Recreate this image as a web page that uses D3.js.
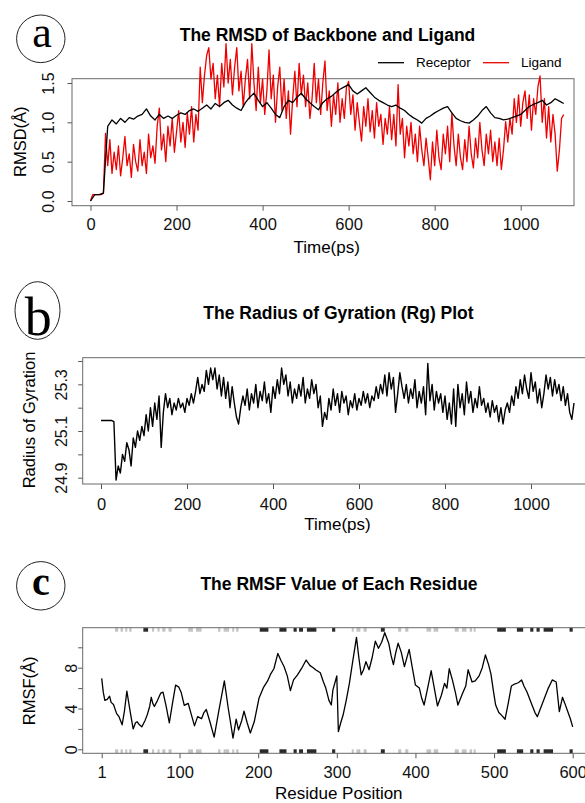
<!DOCTYPE html>
<html>
<head>
<meta charset="utf-8">
<script src="https://cdn.jsdelivr.net/npm/d3@7"></script>
<style>
body { margin: 0; background: #fff; }
svg { display: block; font-family: "Liberation Sans", Arial, sans-serif; }
</style>
</head>
<body>
<svg id="fig" width="585" height="803"></svg>
<script>
// ---- data ----
// panel a: RMSD, ligand every 5 ps, receptor every 10 ps
var ligandStep = 5;
var ligandRmsd = [
    0.00,0.08,0.08,0.08,0.08,0.08,0.10,0.86,0.45,0.78,
    0.35,0.62,0.40,0.70,0.32,0.55,0.82,0.45,0.60,0.30,
    0.72,0.50,0.38,0.78,0.45,0.62,0.35,0.85,0.55,0.70,
    0.48,0.95,1.18,0.65,0.85,0.50,0.95,0.70,1.05,0.62,
    0.88,1.15,0.75,1.00,0.68,1.12,0.85,1.20,0.75,1.10,
    0.90,1.70,1.25,1.60,1.85,1.95,1.55,1.75,1.30,1.60,
    1.20,1.75,1.45,2.00,1.50,1.80,1.35,1.70,1.95,1.40,
    1.65,1.20,1.55,1.80,1.30,2.00,1.50,1.15,1.70,1.25,
    1.55,1.10,1.40,1.92,1.30,1.60,1.00,1.45,1.70,1.15,
    1.55,1.05,1.40,0.85,1.30,1.65,1.20,1.75,1.35,1.60,
    1.20,1.50,1.05,1.30,1.75,1.25,1.55,1.10,1.50,1.78,
    1.15,1.40,0.95,1.35,1.10,1.50,1.00,1.30,1.05,1.45,
    1.52,1.10,1.35,0.90,1.25,1.00,0.76,1.20,0.95,1.30,
    0.88,1.15,0.80,1.25,0.95,1.10,0.72,1.05,0.85,1.20,
    0.78,1.10,0.70,1.48,0.85,1.05,0.55,0.95,0.70,1.00,
    0.60,0.85,0.50,0.95,0.65,0.45,0.80,0.55,0.27,0.75,
    0.45,0.90,0.55,0.40,0.85,0.60,0.95,0.50,1.12,0.70,
    0.45,0.85,0.55,0.40,0.78,0.50,0.95,0.60,0.42,0.80,
    0.55,1.00,0.65,0.45,0.85,0.60,0.90,0.50,0.75,0.45,
    0.80,0.40,0.65,1.01,0.75,1.05,0.85,1.30,1.00,1.35,
    0.95,1.25,1.40,1.05,1.35,0.90,1.30,1.10,1.45,1.59,
    1.00,1.30,0.80,1.20,0.75,1.10,0.85,0.38,0.65,1.05,
    1.10
];
var receptorStep = 10;
var receptorRmsd = [
    0.00,0.08,0.08,0.10,0.95,1.03,0.98,1.05,1.00,1.06,
    1.04,1.08,1.10,1.17,1.08,1.03,1.10,1.05,1.08,1.05,
    1.09,1.12,1.10,1.15,1.17,1.14,1.18,1.22,1.17,1.24,
    1.20,1.25,1.28,1.22,1.18,1.15,1.25,1.32,1.37,1.28,
    1.20,1.25,1.18,1.10,1.06,1.20,1.28,1.25,1.32,1.37,
    1.30,1.25,1.20,1.16,1.25,1.30,1.33,1.38,1.42,1.45,
    1.48,1.40,1.36,1.40,1.44,1.38,1.32,1.28,1.25,1.22,
    1.20,1.22,1.18,1.15,1.10,1.06,1.03,0.99,1.05,1.08,
    1.12,1.15,1.18,1.20,1.12,1.05,1.02,1.00,0.99,1.03,
    1.08,1.15,1.20,1.12,1.06,1.05,1.03,1.04,1.06,1.08,
    1.10,1.15,1.20,1.23,1.25,1.28,1.22,1.25,1.30,1.27,
    1.24
];

// panel b: radius of gyration every 5 ps
var rgStep = 5;
var rgValues = [
    25.145,25.145,25.145,25.145,25.145,25.145,25.14,24.89,24.95,24.92,
    25.00,24.97,25.05,25.02,24.95,25.07,25.03,25.10,25.06,25.12,
    25.08,25.17,25.10,25.20,25.12,25.22,25.15,25.25,25.03,25.18,
    25.26,25.20,25.24,25.17,25.22,25.19,25.24,25.20,25.22,25.18,
    25.24,25.21,25.26,25.22,25.27,25.33,25.26,25.30,25.27,25.36,
    25.30,25.37,25.32,25.37,25.28,25.34,25.25,25.33,25.24,25.31,
    25.20,25.29,25.22,25.16,25.13,25.20,25.25,25.21,25.28,25.19,
    25.26,25.22,25.30,25.20,25.27,25.23,25.31,25.22,25.26,25.18,
    25.29,25.24,25.32,25.26,25.37,25.30,25.34,25.25,25.31,25.22,
    25.28,25.24,25.30,25.25,25.33,25.22,25.28,25.24,25.32,25.26,
    25.30,25.20,25.25,25.12,25.18,25.15,25.24,25.19,25.28,25.21,
    25.26,25.18,25.27,25.22,25.25,25.17,25.23,25.20,25.26,25.19,
    25.24,25.21,25.27,25.22,25.26,25.20,25.25,25.23,25.29,25.24,
    25.30,25.26,25.34,25.25,25.35,25.28,25.33,25.18,25.26,25.35,
    25.29,25.24,25.30,25.22,25.28,25.24,25.32,25.20,25.27,25.22,
    25.29,25.17,25.39,25.23,25.30,25.19,25.27,25.22,25.26,25.18,
    25.25,25.15,25.22,25.13,25.28,25.12,25.30,25.20,25.26,25.17,
    25.31,25.22,25.27,25.18,25.24,25.20,25.29,25.21,25.24,25.18,
    25.22,25.16,25.23,25.18,25.21,25.14,25.20,25.13,25.19,25.22,
    25.18,25.25,25.21,25.29,25.24,25.32,25.26,25.34,25.28,25.24,
    25.35,25.27,25.31,25.22,25.28,25.20,25.26,25.34,25.28,25.33,
    25.25,25.32,25.26,25.30,25.23,25.29,25.21,25.26,25.18,25.15,
    25.22
];

// panel c: RMSF per residue (turning points)
var rmsfResidue = [1,3,5,8,11,13,16,20,23,27,30,33,37,41,44,46,49,52,56,59,62,64,66,68,72,76,79,83,87,91,95,99,102,106,111,115,119,123,128,131,134,139,144,150,157,162,168,172,175,179,182,186,190,195,201,207,212,216,220,225,229,233,237,241,245,250,255,261,266,270,273,279,283,286,290,293,295,300,302,305,308,312,316,320,325,328,331,334,337,341,345,349,353,357,361,366,369,372,375,378,382,386,392,396,400,405,408,411,415,420,424,428,433,437,440,443,447,451,454,460,464,467,472,476,481,485,489,493,496,499,502,506,510,514,518,522,526,530,532,535,538,542,548,552,555,560,564,569,574,579,583,587,590,593,597,600];
var rmsfValue = [6.96,5.6,4.8,4.9,5.2,4.6,4.4,3.5,3.2,2.4,3.8,5.7,3.8,2.0,2.6,2.7,2.4,2.2,2.8,3.4,4.2,5.1,4.5,4.2,4.8,5.5,5.6,4.2,2.6,4.5,6.3,6.1,5.6,4.3,4.5,3.4,2.3,3.2,3.0,3.6,3.9,2.6,1.2,3.8,6.7,4.0,1.1,2.95,1.9,2.8,3.75,2.6,1.6,2.7,5.0,6.1,6.7,7.4,7.9,9.4,8.7,8.1,7.2,5.75,6.8,7.3,7.9,8.75,8.2,8.0,7.8,7.5,6.6,6.0,4.8,4.34,5.8,7.19,1.73,2.6,3.36,4.8,6.46,8.5,10.98,9.0,7.3,7.8,8.6,7.8,9.0,10.6,9.9,10.5,11.43,10.4,9.2,8.3,9.5,10.4,9.5,8.1,9.8,8.0,6.3,6.0,5.0,4.34,5.8,7.7,6.0,4.25,5.3,6.46,6.0,7.9,6.8,5.5,4.34,5.5,6.2,7.8,6.6,6.7,7.2,8.0,9.25,8.3,7.4,5.8,4.34,3.6,3.3,2.95,4.5,6.2,6.4,6.5,6.6,6.8,6.2,5.6,4.4,3.6,3.2,4.2,5.0,6.0,6.8,6.6,3.7,5.1,4.5,3.85,3.0,2.2];
// secondary structure marks along the top and bottom edges
var helixSegments = [[54,60],[202,213],[227,236],[245,249],[252,257],[262,274],[294,298],[356,361],[504,515],[529,537],[546,550],[554,558],[563,575],[596,600]];
var strandSegments = [[18,22],[25,28],[31,33],[36,39],[65,67],[72,74],[78,82],[86,90],[111,117],[121,128],[149,152],[156,163],[167,169],[172,175],[319,321],[325,330],[334,338],[378,382],[387,391],[414,420],[423,429],[450,455],[459,465],[469,472],[474,476]];

var timeTicks = [0, 200, 400, 600, 800, 1000];

var svg = d3.select("#fig");

function drawPanel(p) {
    var g = svg.append("g");
    // letter in circle
    g.append("ellipse")
        .attr("cx", p.badge.cx).attr("cy", p.badge.cy)
        .attr("rx", p.badge.rx).attr("ry", p.badge.ry)
        .attr("fill", "none").attr("stroke", "#222").attr("stroke-width", 1);
    g.append("text")
        .attr("x", p.badge.tx).attr("y", p.badge.ty)
        .attr("text-anchor", "middle")
        .style("font-family", "'Liberation Serif','DejaVu Serif',serif")
        .style("font-size", p.badge.size + "px")
        .style("font-weight", p.badge.weight || "normal")
        .text(p.badge.letter);
    // title
    g.append("text")
        .attr("x", p.title.x).attr("y", p.title.y)
        .attr("text-anchor", "middle")
        .style("font-size", "17.5px").style("font-weight", "bold")
        .text(p.title.text);

    var xAxis = g.append("g")
        .attr("transform", "translate(0," + p.box.y1 + ")")
        .call(d3.axisBottom(p.x).tickValues(p.xticks).tickSize(5).tickFormat(d3.format("d")));
    xAxis.select(".domain").remove();
    xAxis.selectAll("line").attr("stroke", "#555");
    xAxis.selectAll("text")
        .attr("y", p.xlabOff).attr("dy", 0)
        .attr("fill", "#111")
        .style("font-size", "16.5px")
        .style("font-family", "'Liberation Sans',Arial,sans-serif");

    var yAxis = g.append("g")
        .attr("transform", "translate(" + p.box.x0 + ",0)")
        .call(d3.axisLeft(p.y).tickValues(p.yticks).tickSize(4.5)
            .tickFormat(function(d) { return p.ylabels.indexOf(d) >= 0 ? p.yfmt(d) : ""; }));
    yAxis.select(".domain").remove();
    yAxis.selectAll("line").attr("stroke", "#555");
    yAxis.selectAll("text")
        .attr("x", 0).attr("dy", 0)
        .attr("y", -p.ylabOff)
        .attr("transform", "rotate(-90)")
        .attr("text-anchor", "middle")
        .attr("fill", "#111")
        .style("font-size", "16px")
        .style("font-family", "'Liberation Sans',Arial,sans-serif");

    // axis titles
    g.append("text")
        .attr("x", p.xtitle.x).attr("y", p.xtitle.y)
        .attr("text-anchor", "middle")
        .style("font-size", "17px")
        .text(p.xtitle.text);
    g.append("text")
        .attr("transform", "translate(" + p.ytitle.x + "," + p.ytitle.y + ") rotate(-90)")
        .attr("text-anchor", "middle")
        .style("font-size", "16.5px")
        .text(p.ytitle.text);

    p.g = g;
    return g;
}

function drawBox(p) {
    p.g.append("rect")
        .attr("x", p.box.x0).attr("y", p.box.y0)
        .attr("width", p.box.x1 - p.box.x0).attr("height", p.box.y1 - p.box.y0)
        .attr("fill", "none").attr("stroke", "#6a6a6a").attr("stroke-width", 1);
}

// ---- panel a ----
var pa = {
    badge: {cx: 40.8, cy: 38.8, rx: 24.2, ry: 23.8, tx: 42, ty: 46.5, size: 44, letter: "a"},
    title: {x: 327.5, y: 40.5, text: "The RMSD of Backbone and Ligand"},
    box: {x0: 72, x1: 574, y0: 78.7, y1: 205.7},
    x: d3.scaleLinear().domain([0, 1000]).range([90.5, 520.7]),
    y: d3.scaleLinear().domain([0, 1.5]).range([201, 83]),
    xticks: timeTicks, xlabOff: 24.3,
    yticks: [0, 0.5, 1, 1.5], ylabels: [0, 0.5, 1, 1.5], yfmt: d3.format(".1f"), ylabOff: 18.5,
    xtitle: {x: 326.7, y: 252.5, text: "Time(ps)"},
    ytitle: {x: 26, y: 141.7, text: "RMSD(Å)"}
};
drawPanel(pa);
drawBox(pa);
pa.g.append("path")
    .datum(ligandRmsd)
    .attr("d", d3.line().x(function(d, i) { return pa.x(i * ligandStep); }).y(function(d) { return pa.y(d); }))
    .attr("fill", "none").attr("stroke", "#ee0000").attr("stroke-width", 1.3).attr("stroke-linejoin", "round");
pa.g.append("path")
    .datum(receptorRmsd)
    .attr("d", d3.line().x(function(d, i) { return pa.x(i * receptorStep); }).y(function(d) { return pa.y(d); }))
    .attr("fill", "none").attr("stroke", "#000").attr("stroke-width", 1.3).attr("stroke-linejoin", "round");

// legend
var legendItems = [
    {name: "Receptor", color: "#000", x: 378},
    {name: "Ligand", color: "#ee0000", x: 483}
];
var leg = pa.g.selectAll("g.legend").data(legendItems).join("g")
    .attr("class", "legend")
    .attr("transform", function(d) { return "translate(" + d.x + ",62.7)"; });
leg.append("line").attr("x1", 0).attr("x2", 26).attr("stroke", function(d) { return d.color; }).attr("stroke-width", 1.3);
leg.append("text").attr("x", 38).attr("dy", "0.35em").style("font-size", "13.5px").text(function(d) { return d.name; });

// ---- panel b ----
var pb = {
    badge: {cx: 37.5, cy: 310.5, rx: 22.5, ry: 28.8, tx: 38.3, ty: 334.5, size: 54, letter: "b"},
    title: {x: 338.5, y: 318.5, text: "The Radius of Gyration (Rg) Plot"},
    box: {x0: 82.7, x1: 640, y0: 357.7, y1: 484},
    x: d3.scaleLinear().domain([0, 1000]).range([101, 531]),
    y: d3.scaleLinear().domain([24.9, 25.4]).range([477.7, 361]),
    xticks: timeTicks, xlabOff: 26,
    yticks: [24.9, 25.0, 25.1, 25.2, 25.3, 25.4], ylabels: [24.9, 25.1, 25.3], yfmt: d3.format(".1f"), ylabOff: 16,
    xtitle: {x: 337.5, y: 530, text: "Time(ps)"},
    ytitle: {x: 35, y: 420, text: "Radius of Gyration"}
};
drawPanel(pb);
drawBox(pb);
pb.g.append("path")
    .datum(rgValues)
    .attr("d", d3.line().x(function(d, i) { return pb.x(i * rgStep); }).y(function(d) { return pb.y(d); }))
    .attr("fill", "none").attr("stroke", "#000").attr("stroke-width", 1.4).attr("stroke-linejoin", "round");

// ---- panel c ----
var pc = {
    badge: {cx: 40.8, cy: 585.8, rx: 24.2, ry: 24.2, tx: 41, ty: 595, size: 40, weight: "bold", letter: "c"},
    title: {x: 339, y: 589.5, text: "The RMSF Value of Each Residue"},
    box: {x0: 82.7, x1: 640, y0: 627.7, y1: 753.3},
    x: d3.scaleLinear().domain([1, 600]).range([101.7, 572.7]),
    y: d3.scaleLinear().domain([0, 10]).range([749.3, 647.3]),
    xticks: [1, 100, 200, 300, 400, 500, 600], xlabOff: 24.7,
    yticks: [0, 2, 4, 6, 8, 10], ylabels: [0, 4, 8], yfmt: d3.format("d"), ylabOff: 5.5,
    xtitle: {x: 338.8, y: 799, text: "Residue Position"},
    ytitle: {x: 35, y: 690.8, text: "RMSF(Å)"}
};
drawPanel(pc);

// secondary structure marks
var marks = [
    {segs: strandSegments, color: "#c4c4c4"},
    {segs: helixSegments, color: "#2a2a2a"}
];
marks.forEach(function(m) {
    [pc.box.y0, pc.box.y1 - 4].forEach(function(yy) {
        pc.g.selectAll(null).data(m.segs).join("rect")
            .attr("x", function(d) { return pc.x(d[0]); })
            .attr("width", function(d) { return Math.max(2, pc.x(d[1]) - pc.x(d[0])); })
            .attr("y", yy).attr("height", 4)
            .attr("fill", m.color);
    });
});
drawBox(pc);
pc.g.append("path")
    .datum(rmsfValue)
    .attr("d", d3.line().x(function(d, i) { return pc.x(rmsfResidue[i]); }).y(function(d) { return pc.y(d); }))
    .attr("fill", "none").attr("stroke", "#000").attr("stroke-width", 1.3).attr("stroke-linejoin", "round");
</script>
</body>
</html>
